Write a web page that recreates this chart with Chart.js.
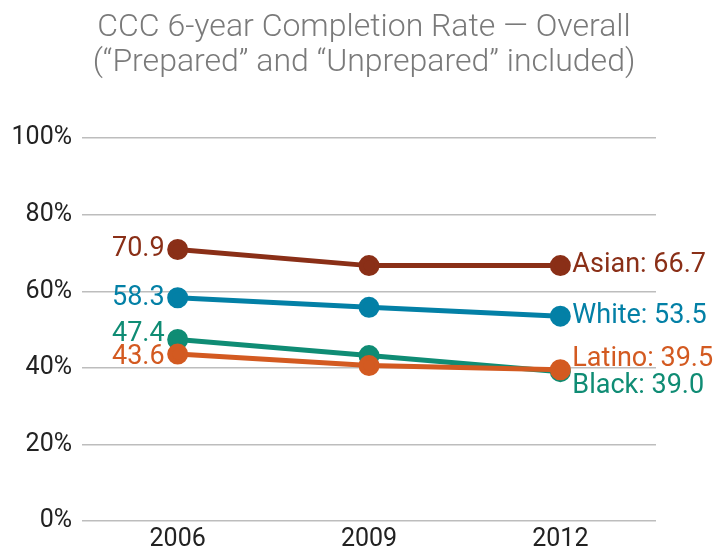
<!DOCTYPE html>
<html>
<head>
<meta charset="utf-8">
<script src="https://cdn.jsdelivr.net/npm/chart.js@4"></script>
<style>
html,body{margin:0;padding:0;background:#fff;}
#wrap{width:728px;height:549px;}
</style>
</head>
<body>
<div id="wrap"><canvas id="c"></canvas></div>
<script>
const years = ["2006", "2009", "2012"];
const asian = [70.9, 66.7, 66.7];
const white = [58.3, 55.8, 53.5];
const black = [47.4, 43.2, 39.0];
const latino = [43.6, 40.6, 39.5];
const seriesNames = ["Asian", "White", "Latino", "Black"];
const yTicks = [0, 20, 40, 60, 80, 100];
const titleLines = ["CCC 6-year Completion Rate \u2014 Overall", "(\u201cPrepared\u201d and \u201cUnprepared\u201d included)"];

const colors = {Asian: "#8a2f17", White: "#0380a6", Black: "#0f8c74", Latino: "#d35a21"};
const endOffsets = {Asian: 0, White: 0, Black: 15, Latino: -11};
const startOffsets = {Asian: 0, White: 0, Black: -5, Latino: 3};

const mk = (name, data) => ({
  label: name, data: data,
  borderColor: colors[name], backgroundColor: colors[name],
  pointBackgroundColor: colors[name], pointBorderColor: colors[name],
  borderWidth: 5, pointRadius: 8, pointHoverRadius: 8, tension: 0
});

const labelPlugin = {
  id: "endLabels",
  afterDatasetsDraw(chart) {
    const ctx = chart.ctx;
    ctx.save();
    ctx.font = "27px Roboto";
    ctx.textBaseline = "middle";
    chart.data.datasets.forEach((ds, i) => {
      const meta = chart.getDatasetMeta(i);
      const p0 = meta.data[0], pn = meta.data[meta.data.length - 1];
      ctx.fillStyle = ds.borderColor;
      ctx.textAlign = "right";
      ctx.fillText(ds.data[0].toFixed(1), p0.x - 13, p0.y + startOffsets[ds.label]);
      ctx.textAlign = "left";
      ctx.fillText(ds.label + ": " + ds.data[ds.data.length - 1].toFixed(1), pn.x + 12, pn.y + endOffsets[ds.label]);
    });
    ctx.restore();
  }
};

new Chart(document.getElementById("c"), {
  type: "line",
  data: {
    labels: years,
    datasets: [mk("Asian", asian), mk("White", white), mk("Latino", latino), mk("Black", black)]
  },
  options: {
    responsive: true,
    maintainAspectRatio: false,
    animation: false,
    layout: {padding: 0},
    plugins: {
      legend: {display: false},
      tooltip: {enabled: false},
      title: {
        display: true,
        text: titleLines,
        color: "#7a7a7a",
        font: {family: "Roboto", size: 32, weight: 300, lineHeight: 1.08},
        padding: {top: 11, bottom: 58}
      }
    },
    scales: {
      x: {
        offset: true,
        afterFit(scale) { scale.height = 28; },
        grid: {display: false, drawTicks: false},
        border: {display: false},
        ticks: {color: "#222", font: {family: "Roboto", size: 25}, padding: 4}
      },
      y: {
        min: 0, max: 100,
        afterBuildTicks(scale) { scale.ticks = yTicks.map(v => ({value: v})); },
        afterFit(scale) { scale.width = 82; },
        grid: {color: "#bdbdbd", lineWidth: 1.5, drawTicks: false},
        border: {display: false},
        ticks: {color: "#222", font: {family: "Roboto", size: 25}, padding: 10,
          callback: v => v + "%"}
      },
      yRight: {
        position: "right",
        min: 0, max: 100,
        afterFit(scale) { scale.width = 72; },
        grid: {display: false, drawTicks: false},
        border: {display: false},
        ticks: {display: false}
      }
    }
  },
  plugins: [labelPlugin]
});
</script>
</body>
</html>
